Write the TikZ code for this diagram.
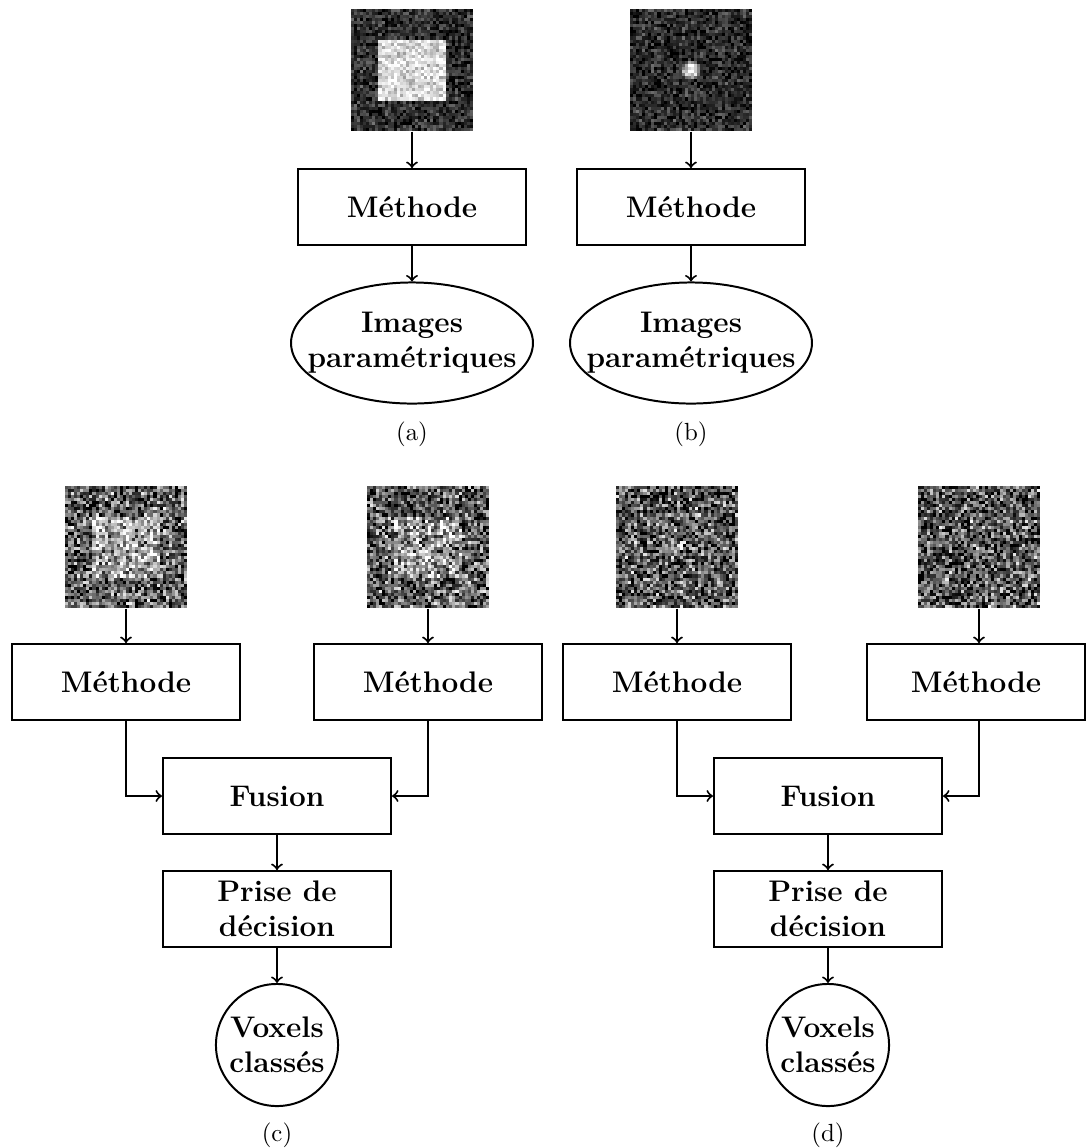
\documentclass[tikz,border=0pt]{standalone}
\usetikzlibrary{shapes.geometric}
\newcommand\noisepatch[8]{% #1 cx, #2 cy, #3 square weight, #4 base, #5 contrast, #6 noise, #7 disk radius, #8 disk weight
  \foreach \i in {0,...,39}{\foreach \j in {0,...,39}{%
    \pgfmathsetmacro\uu{(\i+0.5)/40-0.5}%
    \pgfmathsetmacro\vv{(\j+0.5)/40-0.5}%
    \pgfmathsetmacro\qq{min(4,(\uu*\uu+\vv*\vv)/(#7*#7))}%
    \pgfmathsetmacro\sig{#3*(abs(\uu)<0.265)*(abs(\vv)<0.26)+#8*exp(-\qq*\qq)}%
    \pgfmathsetmacro\gv{100*max(0,min(1,#4+#5*\sig+#6*0.5*(rand+rand)))}%
    \fill[white!\gv!black] (#1-61+\i*3.05,#2-61+\j*3.05) rectangle ++(3.3,3.3);
  }}%
}
\begin{document}
\begin{tikzpicture}[x=0.403pt,y=-0.403pt,
  box/.style={draw,line width=0.8pt,minimum width=91.9pt,minimum height=30.6pt,font=\large\bfseries,align=center,inner sep=1pt},
  ell/.style={draw,line width=0.8pt,ellipse,minimum width=97.5pt,minimum height=48.8pt,inner sep=0pt},
  circ/.style={draw,line width=0.8pt,circle,minimum size=49.2pt,inner sep=0pt},
  txt/.style={font=\large\bfseries,align=center,inner sep=0pt},
  img/.style={minimum size=49.2pt,inner sep=0pt},
  capt/.style={font=\normalsize},
  arr/.style={->,line width=0.8pt}]
\useasboundingbox (0,0) rectangle (1086,1148);
\pgfmathsetseed{7}
% noise images
\noisepatch{412}{70}{1}{0.18}{0.68}{0.3}{0.07}{0}
\noisepatch{691}{70}{0}{0.17}{0.75}{0.3}{0.07}{1}
\noisepatch{126}{547}{1}{0.36}{0.3}{0.65}{0.07}{0}
\noisepatch{428}{547}{1}{0.34}{0.25}{0.65}{0.07}{0}
\noisepatch{677}{547}{0}{0.34}{0.2}{0.65}{0.08}{1}
\noisepatch{979}{547}{0}{0.34}{0.35}{0.65}{0.03}{1}
% (a)
\node[img] (ia) at (412,70) {};
\node[box] (ma) at (412,207) {Méthode};
\node[ell] (ea) at (412,343) {};
\node[txt] (ta) at (ea.center) {Images\\paramétriques};
\node[capt] (ca) at (412,434) {(a)};
\draw[arr] (ia) -- (ma);
\draw[arr] (ma) -- (ea);
% (b)
\node[img] (ib) at (691,70) {};
\node[box] (mb) at (691,207) {Méthode};
\node[ell] (eb) at (691,343) {};
\node[txt] (tb) at (eb.center) {Images\\paramétriques};
\node[capt] (cb) at (691,434) {(b)};
\draw[arr] (ib) -- (mb);
\draw[arr] (mb) -- (eb);
% (c)
\node[img] (ic1) at (126,547) {};
\node[img] (ic2) at (428,547) {};
\node[box] (mc1) at (126,682) {Méthode};
\node[box] (mc2) at (428,682) {Méthode};
\node[box] (fc) at (277,796) {Fusion};
\node[box] (pc) at (277,909) {Prise de\\décision};
\node[circ] (vc) at (277,1045) {};
\node[txt] (tc) at (vc.center) {Voxels\\classés};
\node[capt] (cc) at (277,1135) {(c)};
\draw[arr] (ic1) -- (mc1);
\draw[arr] (ic2) -- (mc2);
\draw[arr] (mc1.south) |- (fc.west);
\draw[arr] (mc2.south) |- (fc.east);
\draw[arr] (fc) -- (pc);
\draw[arr] (pc) -- (vc);
% (d)
\node[img] (id1) at (677,547) {};
\node[img] (id2) at (979,547) {};
\node[box] (md1) at (677,682) {Méthode};
\node[box,minimum width=87.9pt] (md2) at (976,682) {Méthode};
\node[box] (fd) at (828,796) {Fusion};
\node[box] (pd) at (828,909) {Prise de\\décision};
\node[circ] (vd) at (828,1045) {};
\node[txt] (td) at (vd.center) {Voxels\\classés};
\node[capt] (cd) at (828,1135) {(d)};
\draw[arr] (id1) -- (md1);
\draw[arr] (id2.south) -- (id2.south |- md2.north);
\draw[arr] (md1.south) |- (fd.west);
\draw[arr] (id2.south |- md2.south) |- (fd.east);
\draw[arr] (fd) -- (pd);
\draw[arr] (pd) -- (vd);
\end{tikzpicture}
\end{document}
